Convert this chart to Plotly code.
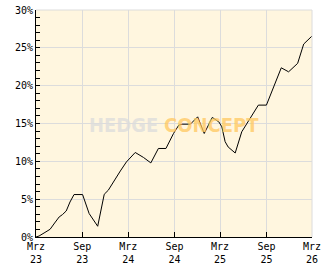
import plotly.graph_objects as go

dates = ["2023-03-01","2023-03-13","2023-04-02","2023-04-26","2023-05-14","2023-06-01","2023-06-14",
         "2023-06-29","2023-07-14","2023-07-30","2023-09-02","2023-09-28","2023-11-01","2023-11-27",
         "2023-12-13","2024-01-06","2024-01-30","2024-02-23","2024-03-29","2024-05-01","2024-05-30",
         "2024-06-29","2024-07-29","2024-08-28","2024-09-18","2024-10-01","2024-11-03","2024-12-02",
         "2024-12-28","2025-01-29","2025-02-24","2025-03-08","2025-03-21","2025-04-02","2025-04-30",
         "2025-05-26","2025-06-28","2025-07-31","2025-09-01","2025-09-30","2025-10-30","2025-11-28",
         "2026-01-03","2026-01-27","2026-02-10","2026-03-01"]
values = [0.0,0.13,0.53,1.02,1.85,2.65,2.96,3.44,4.63,5.61,5.61,3.10,1.42,5.65,6.18,7.50,8.73,9.92,
          11.17,10.51,9.79,11.70,11.70,13.68,14.78,14.91,14.91,15.88,13.68,15.80,15.22,14.56,12.6,
          11.9,11.1,13.9,15.67,17.43,17.43,19.85,22.36,21.83,22.95,25.50,25.94,26.56]

tick_dates = ["2023-03-01","2023-09-01","2024-03-01","2024-09-01","2025-03-01","2025-09-01","2026-03-01"]
tick_labels = ["Mrz<br>23","Sep<br>23","Mrz<br>24","Sep<br>24","Mrz<br>25","Sep<br>25","Mrz<br>26"]
y_ticks = [0, 5, 10, 15, 20, 25, 30]

font = dict(family="DejaVu Sans Mono", size=10, color="black")

fig = go.Figure()
fig.add_trace(go.Scatter(x=dates, y=values, mode="lines",
                         line=dict(color="black", width=1), hoverinfo="skip"))

fig.update_layout(
    width=332, height=269,
    margin=dict(l=36, r=20, t=10, b=32),
    paper_bgcolor="white", plot_bgcolor="#FFF6DF",
    showlegend=False, font=font,
    xaxis=dict(range=[tick_dates[0], tick_dates[-1]], tickvals=tick_dates, ticktext=tick_labels,
               showgrid=True, gridcolor="#DCDCDC", gridwidth=1, automargin=False,
               showline=True, linecolor="black", linewidth=1,
               ticks="inside", ticklen=5, tickcolor="black", tickfont=font, zeroline=False),
    yaxis=dict(range=[0, 30], tickvals=y_ticks, ticktext=[f"{v}%" for v in y_ticks],
               showgrid=True, gridcolor="#DCDCDC", gridwidth=1, automargin=False,
               showline=True, linecolor="black", linewidth=1,
               ticks="inside", ticklen=4, tickcolor="black", tickfont=font, zeroline=False,
               minor=dict(dtick=1, ticks="inside", ticklen=4, tickcolor="black", showgrid=False)),
)

fig.add_shape(type="line", xref="paper", yref="paper", x0=0, x1=1, y0=1, y1=1,
              line=dict(color="#DCDCDC", width=1))
fig.add_shape(type="line", xref="paper", yref="paper", x0=1, x1=1, y0=0, y1=1,
              line=dict(color="#DCDCDC", width=1))

fig.add_annotation(text="<b>HEDGE</b>", xref="paper", yref="paper", x=0.448, y=0.495,
                   xanchor="right", showarrow=False,
                   font=dict(family="DejaVu Sans Condensed", size=20,
                             color="rgba(220,220,220,0.75)"))
fig.add_annotation(text="<b>CONCEPT</b>", xref="paper", yref="paper", x=0.456, y=0.495,
                   xanchor="left", showarrow=False,
                   font=dict(family="DejaVu Sans Condensed", size=20,
                             color="rgba(255,200,95,0.75)"))

fig.write_html("out.html")
